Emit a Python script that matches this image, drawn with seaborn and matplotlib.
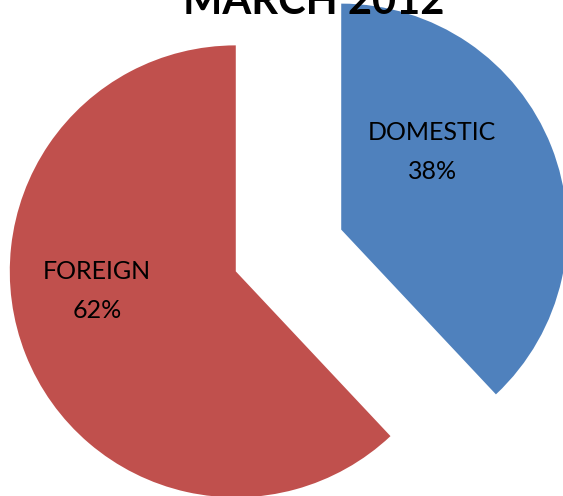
import numpy as np
import matplotlib
matplotlib.use("Agg")
import matplotlib.pyplot as plt
import seaborn as sns

# data
categories = ["DOMESTIC", "FOREIGN"]
shares = [38, 62]
slice_colors = ["#4F81BD", "#C0504D"]
title_text = "MARCH 2012"

sns.set_style("white")
plt.rcParams['font.family'] = ['Lato', 'DejaVu Sans']

W, H = 563, 496
fig = plt.figure(figsize=(W / 100, H / 100), dpi=100)
ax = fig.add_axes([0, 0, 1, 1])

radius = 226
# explode is in data units here (axes are in pixels)
wedges, _ = ax.pie(
    shares,
    colors=slice_colors,
    startangle=90,
    counterclock=False,
    explode=[56.7, 56.7],
    radius=radius,
    center=(288.5, 245.5),
    frame=True,
    wedgeprops=dict(linewidth=0),
)
ax.set_xlim(0, W)
ax.set_ylim(0, H)
ax.set_aspect('equal')
ax.axis('off')

# label placement (angle in degrees, distance as fraction of radius) relative to each slice centre
label_spots = [(40.6, 0.53), (188.0, 0.62)]
for w, name, pct, (ang, dist) in zip(wedges, categories, shares, label_spots):
    cx, cy = w.center
    a = np.deg2rad(ang)
    ax.text(cx + dist * radius * np.cos(a), cy + dist * radius * np.sin(a),
            f"{name}\n{pct}%", ha='center', va='center',
            fontsize=18, linespacing=1.85, color='black')

ax.text(W / 2 + 32, H - 14, title_text, ha='center', va='baseline',
        fontsize=30, fontweight='bold', color='black')

fig.savefig("out.png", dpi=100)
